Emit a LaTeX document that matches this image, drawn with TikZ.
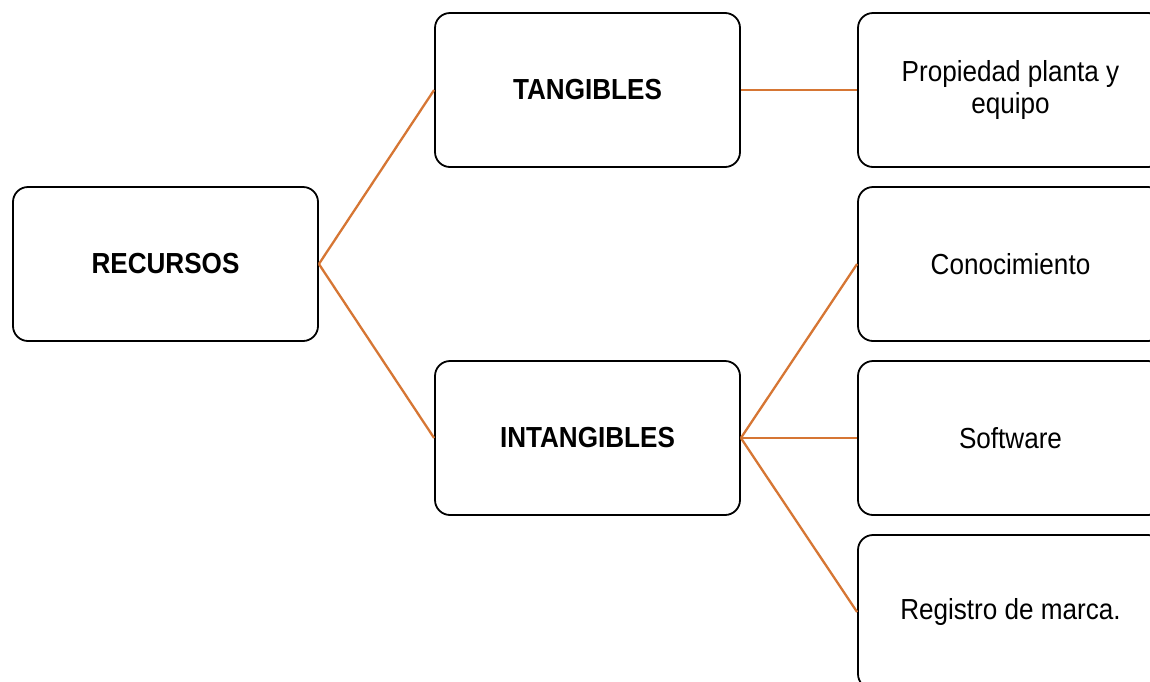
\documentclass[tikz,border=0pt]{standalone}
\usepackage{fontspec}
\setmainfont{Liberation Sans}[FakeStretch=0.9]
\definecolor{linkorange}{RGB}{214,118,52}
\begin{document}
\begin{tikzpicture}[x=1pt,y=-1pt,
  box/.style={draw=black, line width=1.8pt, rounded corners=15pt, fill=white,
    minimum width=305pt, minimum height=154pt, inner sep=0pt,
    align=center, font=\fontsize{29}{32}\selectfont},
  head/.style={box, font=\fontsize{29}{32}\selectfont\bfseries},
  link/.style={draw=linkorange, line width=2.3pt}]
  \useasboundingbox (0,0) rectangle (1150,681);
  \clip (0,0) rectangle (1150,681);
  % root and first level
  \node[head] (rec) at (165.5,264) {RECURSOS};
  \node[head] (tan) at (587.5,90) {TANGIBLES};
  \node[head] (int) at (587.5,438) {INTANGIBLES};
  % second level
  \node[box] (ppe) at (1010.5,90) {Propiedad planta y\\equipo};
  \node[box] (con) at (1010.5,264) {Conocimiento};
  \node[box] (sof) at (1010.5,438) {Software};
  \node[box] (reg) at (1010.5,612) {Registro de marca.};
  % connectors
  \draw[link] (rec.east) -- (tan.west);
  \draw[link] (rec.east) -- (int.west);
  \draw[link] (tan.east) -- (ppe.west);
  \draw[link] (int.east) -- (con.west);
  \draw[link] (int.east) -- (sof.west);
  \draw[link] (int.east) -- (reg.west);
\end{tikzpicture}
\end{document}
